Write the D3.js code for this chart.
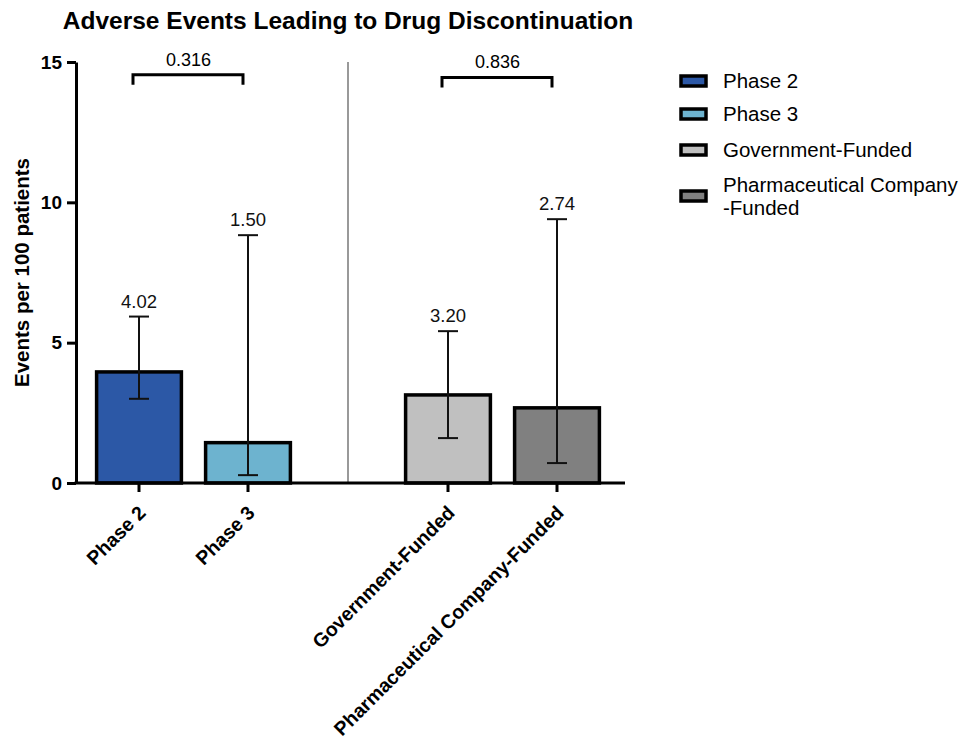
<!DOCTYPE html>
<html>
<head>
<meta charset="utf-8">
<script src="https://cdn.jsdelivr.net/npm/d3@7"></script>
<style>
  body { margin: 0; background: #fff; }
  svg { font-family: "Liberation Sans", Arial, sans-serif; }
</style>
</head>
<body>
<div id="chart"></div>
<script>
const width = 971;
const height = 741;

// data
const categories = ["Phase 2", "Phase 3", "Government-Funded", "Pharmaceutical Company-Funded"];
const groupOf = ["Phase", "Phase", "Funding", "Funding"];
const groups = ["Phase", "Funding"];
const values = [4.02, 1.50, 3.20, 2.74];
const ciLow = [3.00, 0.28, 1.60, 0.71];
const ciHigh = [5.93, 8.83, 5.41, 9.40];
const colors = ["#2c58a6", "#6db3cf", "#c0c0c0", "#808080"];
const legendLabels = [["Phase 2"], ["Phase 3"], ["Government-Funded"], ["Pharmaceutical Company", "-Funded"]];
const yTicks = [0, 5, 10, 15];
// p-value brackets: [left category, right category, label, height]
const comparisons = [
  ["Phase 2", "Phase 3", "0.316", 14.55],
  ["Government-Funded", "Pharmaceutical Company-Funded", "0.836", 14.45]
];

const svg = d3.select("#chart")
  .append("svg")
  .attr("width", width)
  .attr("height", height);

const axisLeft = 76, axisRight = 625, axisY = 483, axisTop = 62;

const y = d3.scaleLinear()
  .domain([0, 15])
  .range([axisY, axisTop]);

const xGroup = d3.scaleBand()
  .domain(groups)
  .range([84.5, 611.5])
  .paddingInner(0.2945);

const xInner = d3.scaleBand()
  .domain([0, 1])
  .range([0, xGroup.bandwidth()])
  .paddingInner(0.19)
  .paddingOuter(0.095);

// index of a category within its group
const innerIdx = categories.map((c, i) => groupOf.slice(0, i).filter(g => g === groupOf[i]).length);
const barX = i => xGroup(groupOf[i]) + xInner(innerIdx[i]);
const cx = i => barX(i) + xInner.bandwidth() / 2;

// title
svg.append("text")
  .attr("x", 348)
  .attr("y", 29)
  .attr("text-anchor", "middle")
  .style("font-size", "24.5px")
  .style("font-weight", "bold")
  .text("Adverse Events Leading to Drug Discontinuation");

// divider between the two groups
const divX = (xGroup("Phase") + xGroup.bandwidth() + xGroup("Funding")) / 2;
svg.append("line")
  .attr("x1", divX).attr("x2", divX)
  .attr("y1", y(15)).attr("y2", y(0))
  .style("stroke", "#777")
  .style("stroke-width", 1.5);

// bars (outline kept inside the bar edges)
const sw = 3.5;
const idx = d3.range(categories.length);
svg.selectAll(".bar")
  .data(idx)
  .join("rect")
    .classed("bar", true)
    .attr("x", i => barX(i) + sw / 2)
    .attr("y", i => y(values[i]) + sw / 2)
    .attr("width", xInner.bandwidth() - sw)
    .attr("height", i => y(0) - y(values[i]) - sw / 2)
    .style("fill", i => colors[i])
    .style("stroke", "#000")
    .style("stroke-width", sw);

// error bars
const cap = 10;
const err = svg.selectAll(".err")
  .data(idx)
  .join("g")
    .classed("err", true)
    .style("stroke", "#111")
    .style("stroke-width", 2);
err.append("line")
  .attr("x1", cx).attr("x2", cx)
  .attr("y1", i => y(ciLow[i])).attr("y2", i => y(ciHigh[i]));
err.append("line")
  .attr("x1", i => cx(i) - cap).attr("x2", i => cx(i) + cap)
  .attr("y1", i => y(ciHigh[i])).attr("y2", i => y(ciHigh[i]));
err.append("line")
  .attr("x1", i => cx(i) - cap).attr("x2", i => cx(i) + cap)
  .attr("y1", i => y(ciLow[i])).attr("y2", i => y(ciLow[i]));

// value labels over error bars
svg.selectAll(".val")
  .data(idx)
  .join("text")
    .classed("val", true)
    .attr("x", cx)
    .attr("y", i => y(ciHigh[i]) - 9)
    .attr("text-anchor", "middle")
    .style("font-size", "18.5px")
    .style("fill", "#111")
    .text(i => values[i].toFixed(2));

// y axis
const yAxis = svg.append("g")
  .attr("transform", `translate(${axisLeft},0)`)
  .call(d3.axisLeft(y).tickValues(yTicks).tickSize(9).tickSizeOuter(0).tickPadding(5));
yAxis.select(".domain").style("stroke-width", 3).attr("stroke", "#000");
yAxis.selectAll(".tick line").style("stroke-width", 3).attr("stroke", "#000");
yAxis.selectAll(".tick text")
  .style("font-size", "19px")
  .style("font-weight", "bold")
  .style("font-family", "'Liberation Sans', Arial, sans-serif")
  .attr("fill", "#000");

svg.append("text")
  .attr("transform", `translate(29,${(y(0) + y(15)) / 2}) rotate(-90)`)
  .attr("text-anchor", "middle")
  .style("font-size", "20.5px")
  .style("font-weight", "bold")
  .text("Events per 100 patients");

// x axis
svg.append("line")
  .attr("x1", axisLeft - 1.5).attr("x2", axisRight)
  .attr("y1", axisY).attr("y2", axisY)
  .style("stroke", "#000")
  .style("stroke-width", 3);

svg.selectAll(".xtick")
  .data(idx)
  .join("line")
    .classed("xtick", true)
    .attr("x1", cx).attr("x2", cx)
    .attr("y1", axisY).attr("y2", axisY + 9)
    .style("stroke", "#000")
    .style("stroke-width", 3);

svg.selectAll(".xlabel")
  .data(idx)
  .join("text")
    .classed("xlabel", true)
    .attr("transform", i => `translate(${cx(i) + 8},${axisY + 31}) rotate(-45)`)
    .attr("text-anchor", "end")
    .style("font-size", "19.5px")
    .style("font-weight", "bold")
    .text(i => categories[i]);

// significance brackets
const leg = 10;
const br = svg.selectAll(".bracket")
  .data(comparisons)
  .join("g")
    .classed("bracket", true);
br.append("path")
  .attr("d", d => {
    const x1 = cx(categories.indexOf(d[0])) - 6;
    const x2 = cx(categories.indexOf(d[1])) - 5;
    const yy = y(d[3]);
    return `M${x1},${yy + leg}V${yy}H${x2}V${yy + leg}`;
  })
  .style("fill", "none")
  .style("stroke", "#000")
  .style("stroke-width", 3);
br.append("text")
  .attr("x", d => (cx(categories.indexOf(d[0])) + cx(categories.indexOf(d[1]))) / 2 - 5)
  .attr("y", d => y(d[3]) - 9)
  .attr("text-anchor", "middle")
  .style("font-size", "18px")
  .text(d => d[2]);

// legend
const legendRows = [81, 114, 150, 196];
const lg = svg.selectAll(".legend")
  .data(idx)
  .join("g")
    .classed("legend", true)
    .attr("transform", i => `translate(681,${legendRows[i]})`);
lg.append("rect")
  .attr("x", 0).attr("y", -5)
  .attr("width", 25).attr("height", 10)
  .style("fill", i => colors[i])
  .style("stroke", "#000")
  .style("stroke-width", 3.5);
lg.append("text")
  .attr("x", 42)
  .attr("y", i => legendLabels[i].length > 1 ? -4 : 7)
  .style("font-size", "20.5px")
  .selectAll("tspan")
  .data(i => legendLabels[i])
  .join("tspan")
    .attr("x", 42)
    .attr("dy", (d, k) => k === 0 ? 0 : 23)
    .text(d => d);
</script>
</body>
</html>
